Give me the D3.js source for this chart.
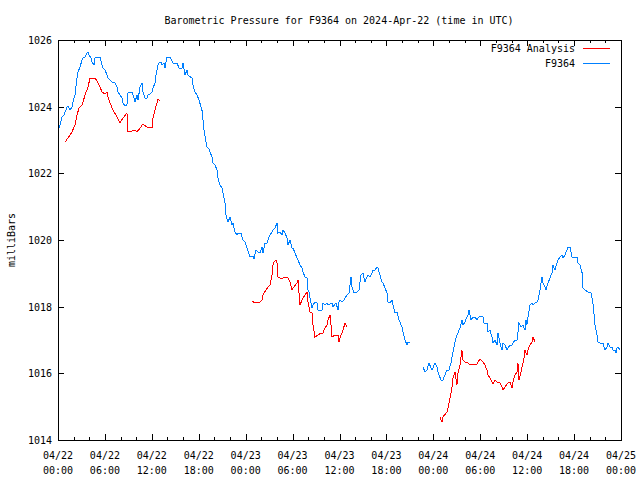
<!DOCTYPE html>
<html>
<head>
<meta charset="utf-8">
<script src="https://cdn.jsdelivr.net/npm/d3@7"></script>
<style>
  html, body { margin: 0; padding: 0; background: #fff; }
  svg { display: block; }
  text { font-family: "DejaVu Sans Mono", "Liberation Mono", monospace; font-size: 10px; fill: #000; }
</style>
</head>
<body>
<svg id="chart" width="640" height="480"></svg>
<script>
// ---- Data (hours since 2024-04-22 00:00 UTC, pressure in millibars; null = gap) ----
const titleText = "Barometric Pressure for F9364 on 2024-Apr-22 (time in UTC)";
const yLabelText = "milliBars";
const seriesNames = ["F9364 Analysis", "F9364"];
const yTickValues = [1014, 1016, 1018, 1020, 1022, 1024, 1026];

const blueHours = [
0.13,0.26,0.51,0.77,1.15,1.28,1.53,1.79,1.92,2.17,2.43,2.56,2.81,3.07,3.20,3.45,3.71,3.84,3.96,4.22,4.35,4.60,4.73,4.99,5.12,5.37,5.63,5.75,6.01,6.27,6.39,6.91,7.29,7.54,7.67,7.93,8.18,8.31,8.57,8.82,8.95,9.21,9.46,9.72,9.85,10.10,10.23,10.49,10.74,10.87,11.13,11.38,11.51,11.76,12.02,12.15,12.40,12.53,12.79,12.92,13.17,13.30,13.55,13.68,13.94,14.32,
14.71,15.22,15.47,15.86,15.99,16.24,16.50,16.62,17.14,17.26,17.52,17.77,18.03,18.41,18.54,18.67,18.93,19.05,19.31,19.69,19.82,20.08,20.33,20.46,20.72,20.97,21.10,21.36,21.48,21.74,22.00,22.25,22.38,22.63,22.89,23.02,23.40,23.66,23.91,24.17,24.55,24.94,25.06,25.32,25.58,25.83,26.09,26.21,26.47,26.73,26.98,
27.11,27.37,27.49,27.75,28.01,28.13,28.39,28.64,28.77,29.03,29.28,29.41,29.67,29.92,30.05,30.31,30.56,30.69,30.95,31.20,31.33,31.59,31.84,31.97,32.10,32.35,32.48,32.61,32.86,33.12,33.25,33.76,33.89,34.14,34.40,34.53,35.04,35.17,35.55,35.81,35.93,36.06,36.32,36.57,36.96,37.21,37.47,37.60,37.85,38.24,38.49,38.75,39.00,39.26,39.51,39.64,39.90,40.15,40.28,40.54,40.79,40.92,41.18,41.43,41.56,41.82,42.07,42.20,42.46,42.71,42.84,43.09,43.35,43.61,43.99,44.12,44.37,44.63,44.76,45.01,
45.8,
46.68,46.93,47.19,47.44,47.83,48.21,48.47,48.59,48.98,49.23,49.49,49.74,50.00,50.26,50.38,50.51,50.77,51.02,51.15,51.41,51.66,51.79,52.05,52.30,52.43,52.56,52.81,53.07,53.32,53.58,53.71,53.96,54.35,54.48,54.86,54.99,55.24,55.50,55.63,55.88,56.14,56.27,56.52,56.78,56.91,57.16,57.42,57.80,58.06,58.18,58.44,58.70,58.82,58.95,59.21,59.46,59.72,59.85,59.97,60.10,60.36,60.61,60.74,61.00,61.25,61.38,61.64,61.89,62.02,62.28,62.40,62.66,62.92,63.17,63.30,63.55,63.81,63.94,64.19,64.45,64.58,64.83,65.09,65.22,65.47,65.73,66.11,66.37,66.50,66.75,67.01,67.14,67.39,67.77,68.16,68.41,68.54,68.67,68.93,69.05,69.31,69.69,69.82,69.95,70.20,70.33,70.59,70.84,70.97,71.23,71.36,71.48,71.61,71.87
];
const bluePressure = [
1023.36,1023.45,1023.69,1023.75,1023.99,1024.02,1023.90,1023.99,1024.14,1024.35,1024.86,1025.04,1025.19,1025.40,1025.46,1025.49,1025.61,1025.64,1025.55,1025.46,1025.34,1025.25,1025.46,1025.49,1025.46,1025.49,1025.25,1025.16,1025.10,1024.95,1024.86,1024.74,1024.71,1024.59,1024.44,1024.35,1024.26,1024.11,1024.02,1024.05,1024.41,1024.44,1024.44,1024.26,1024.14,1024.35,1024.20,1024.59,1024.71,1024.44,1024.26,1024.26,1024.35,1024.38,1024.44,1024.56,1024.71,1024.95,1025.25,1025.31,1025.34,1025.25,1025.31,1025.16,1025.49,1025.49,
1025.31,1025.31,1025.16,1025.16,1025.31,1024.95,1025.10,1024.95,1024.86,1024.65,1024.44,1024.35,1024.20,1023.90,1023.60,1023.30,1022.94,1022.79,1022.73,1022.49,1022.31,1022.25,1022.10,1021.86,1021.65,1021.56,1021.41,1021.11,1020.75,1020.54,1020.69,1020.45,1020.51,1020.24,1020.15,1020.21,1020.21,1020.00,1019.94,1019.76,1019.49,1019.52,1019.43,1019.70,1019.64,1019.61,1019.79,1019.61,1019.91,1019.91,1020.09,
1020.15,1020.24,1020.30,1020.36,1020.51,1020.21,1020.24,1020.15,1020.30,1020.21,1020.06,1019.85,1020.00,1019.76,1019.76,1019.61,1019.46,1019.40,1019.25,1019.16,1019.04,1018.89,1018.86,1018.50,1018.44,1018.11,1017.96,1018.05,1018.14,1018.11,1017.90,1017.90,1018.11,1018.05,1018.11,1018.05,1018.11,1017.99,1018.11,1017.90,1018.14,1018.20,1018.14,1018.20,1018.35,1018.41,1018.89,1018.59,1018.41,1018.44,1018.50,1018.95,1019.01,1018.74,1018.89,1018.95,1018.89,1019.01,1019.10,1019.10,1019.19,1019.16,1018.95,1018.74,1018.71,1018.56,1018.41,1018.14,1018.11,1018.20,1018.05,1017.81,1017.84,1017.60,1017.39,1017.24,1017.00,1016.85,1016.94,1016.91,
null,
1016.19,1016.04,1016.10,1016.31,1016.10,1016.31,1016.19,1016.04,1015.80,1015.80,1015.95,1016.10,1016.10,1016.31,1016.49,1016.64,1016.94,1017.15,1017.21,1017.36,1017.60,1017.45,1017.54,1017.69,1017.75,1017.90,1017.60,1017.69,1017.69,1017.60,1017.66,1017.72,1017.69,1017.51,1017.51,1017.24,1017.30,1017.09,1016.91,1017.00,1016.85,1017.21,1016.91,1016.70,1016.91,1016.85,1016.70,1016.85,1016.85,1016.91,1017.00,1017.00,1017.21,1017.51,1017.39,1017.45,1017.30,1017.60,1017.45,1017.69,1018.05,1018.11,1018.05,1018.11,1018.14,1018.20,1018.50,1018.89,1018.71,1018.59,1018.50,1018.71,1018.86,1019.01,1019.25,1019.10,1019.31,1019.40,1019.49,1019.55,1019.46,1019.55,1019.70,1019.79,1019.79,1019.49,1019.49,1019.49,1019.31,1019.25,1019.04,1018.56,1018.50,1018.44,1018.41,1018.11,1017.81,1017.45,1017.15,1016.94,1016.91,1016.91,1016.79,1016.70,1016.79,1016.91,1016.79,1016.79,1016.70,1016.70,1016.61,1016.76,1016.79,1016.70
];

const redHours = [
0.90,1.28,1.79,2.17,2.43,2.69,3.07,3.20,3.45,3.84,4.09,4.73,4.99,5.37,5.63,6.01,6.27,6.39,6.65,7.03,7.54,7.93,8.31,8.82,8.95,9.46,9.85,10.10,10.49,10.87,11.38,12.02,12.15,12.40,12.79,13.04,
18.0,
24.81,25.19,25.83,26.09,26.21,26.60,26.85,27.11,27.37,27.49,27.62,27.88,28.01,28.13,28.39,28.77,29.03,29.41,29.67,29.92,30.05,30.56,30.69,30.95,31.20,31.59,31.84,31.97,32.23,32.48,32.61,32.86,33.25,33.63,33.89,34.14,34.40,34.53,34.78,34.91,35.04,35.42,35.81,35.93,36.06,36.45,36.70,36.96,
42.0,
48.85,49.10,49.23,49.74,49.87,50.13,50.38,50.51,50.77,51.02,51.15,51.41,51.66,51.79,52.05,52.43,52.69,53.07,53.58,53.96,54.35,54.60,54.86,54.99,55.24,55.50,55.63,55.88,56.14,56.52,56.78,56.91,57.16,57.54,57.80,58.06,58.18,58.44,58.70,58.82,58.95,59.21,59.46,59.59,59.72,59.97,60.10,60.36,60.61,60.74,61.00
];
const redPressure = [
1022.94,1023.06,1023.24,1023.45,1023.75,1023.96,1024.05,1024.14,1024.35,1024.59,1024.86,1024.86,1024.77,1024.59,1024.44,1024.38,1024.44,1024.29,1024.11,1023.90,1023.69,1023.51,1023.66,1023.81,1023.27,1023.27,1023.30,1023.24,1023.36,1023.48,1023.39,1023.36,1023.66,1023.90,1024.23,1024.17,
null,
1018.17,1018.11,1018.14,1018.20,1018.35,1018.50,1018.59,1018.65,1018.95,1019.25,1019.34,1019.40,1019.31,1018.89,1018.86,1018.86,1018.89,1018.86,1018.74,1018.50,1018.56,1018.71,1018.80,1018.05,1018.20,1018.35,1018.44,1018.14,1017.84,1017.81,1017.45,1017.09,1017.15,1017.21,1017.21,1017.36,1017.45,1017.60,1017.75,1017.45,1017.09,1017.15,1017.15,1016.94,1017.06,1017.30,1017.51,1017.39,
null,
1014.69,1014.54,1014.69,1014.84,1014.96,1015.26,1015.56,1015.86,1016.04,1015.65,1016.01,1016.25,1016.70,1016.40,1016.34,1016.31,1016.25,1016.28,1016.28,1016.43,1016.34,1016.25,1016.10,1015.95,1015.86,1015.74,1015.68,1015.80,1015.74,1015.71,1015.59,1015.50,1015.59,1015.71,1015.74,1015.56,1015.74,1015.95,1016.04,1016.31,1015.80,1016.04,1016.31,1016.46,1016.70,1016.55,1016.70,1016.85,1016.94,1017.09,1016.94
];

const startMs = Date.UTC(2024, 3, 22);
const endMs = Date.UTC(2024, 3, 25);

// ---- Layout ----
const svg = d3.select("#chart");
const plotL = 58, plotR = 621, plotT = 40, plotB = 440;
const x = d3.scaleUtc().domain([new Date(startMs), new Date(endMs)]).range([plotL, plotR]);
const y = d3.scaleLinear().domain([1014, 1026]).range([plotB, plotT]);
const toDate = h => new Date(startMs + h * 3600e3);

const majorTicks = x.ticks(d3.utcHour.every(6));
const minorTicks = x.ticks(d3.utcHour.every(2));

const g = svg.append("g").attr("shape-rendering", "crispEdges");

// frame
g.append("rect").attr("x", plotL + 0.5).attr("y", plotT + 0.5).attr("width", plotR - plotL).attr("height", plotB - plotT)
  .attr("fill", "none").attr("stroke", "#000").attr("stroke-width", 1);

// x ticks (bottom + top mirror, inward)
minorTicks.forEach(t => {
  const major = t.getUTCHours() % 6 === 0;
  const len = major ? 6 : 3;
  const xp = Math.round(x(t)) + 0.5;
  g.append("line").attr("x1", xp).attr("x2", xp).attr("y1", plotB).attr("y2", plotB - len).attr("stroke", "#000");
  g.append("line").attr("x1", xp).attr("x2", xp).attr("y1", plotT).attr("y2", plotT + len).attr("stroke", "#000");
});

// y ticks (left + right, inward)
yTickValues.forEach(v => {
  const yp = Math.round(y(v)) + 0.5;
  g.append("line").attr("x1", plotL).attr("x2", plotL + 6).attr("y1", yp).attr("y2", yp).attr("stroke", "#000");
  g.append("line").attr("x1", plotR).attr("x2", plotR - 6).attr("y1", yp).attr("y2", yp).attr("stroke", "#000");
});

// x labels
const fmtDate = d3.utcFormat("%m/%d"), fmtTime = d3.utcFormat("%H:%M");
majorTicks.forEach(t => {
  svg.append("text").attr("x", x(t)).attr("y", 459).attr("text-anchor", "middle").text(fmtDate(t));
  svg.append("text").attr("x", x(t)).attr("y", 474).attr("text-anchor", "middle").text(fmtTime(t));
});

// y labels
yTickValues.forEach(v => {
  svg.append("text").attr("x", 52).attr("y", y(v) + 4).attr("text-anchor", "end").text(d3.format("d")(v));
});

// title & axis label
svg.append("text").attr("x", 339).attr("y", 24).attr("text-anchor", "middle").text(titleText);
svg.append("text").attr("transform", "translate(15,240) rotate(-90)").attr("text-anchor", "middle").text(yLabelText);

// lines
const line = d3.line()
  .defined(d => d.p !== null)
  .x(d => x(toDate(d.h)))
  .y(d => y(d.p));

const redData = redHours.map((h, i) => ({ h, p: redPressure[i] }));
const blueData = blueHours.map((h, i) => ({ h, p: bluePressure[i] }));

svg.append("path").datum(redData).attr("d", line).attr("fill", "none")
  .attr("stroke", "#ff0000").attr("stroke-width", 1).attr("shape-rendering", "crispEdges");
svg.append("path").datum(blueData).attr("d", line).attr("fill", "none")
  .attr("stroke", "#0080ff").attr("stroke-width", 1).attr("shape-rendering", "crispEdges");

// legend
const legendColors = ["#ff0000", "#0080ff"];
seriesNames.forEach((name, i) => {
  const ly = 48 + i * 15;
  svg.append("text").attr("x", 575).attr("y", ly + 4).attr("text-anchor", "end").text(name);
  svg.append("line").attr("x1", 583).attr("x2", 610).attr("y1", ly + 0.5).attr("y2", ly + 0.5)
    .attr("stroke", legendColors[i]).attr("stroke-width", 1).attr("shape-rendering", "crispEdges");
});
</script>
</body>
</html>
